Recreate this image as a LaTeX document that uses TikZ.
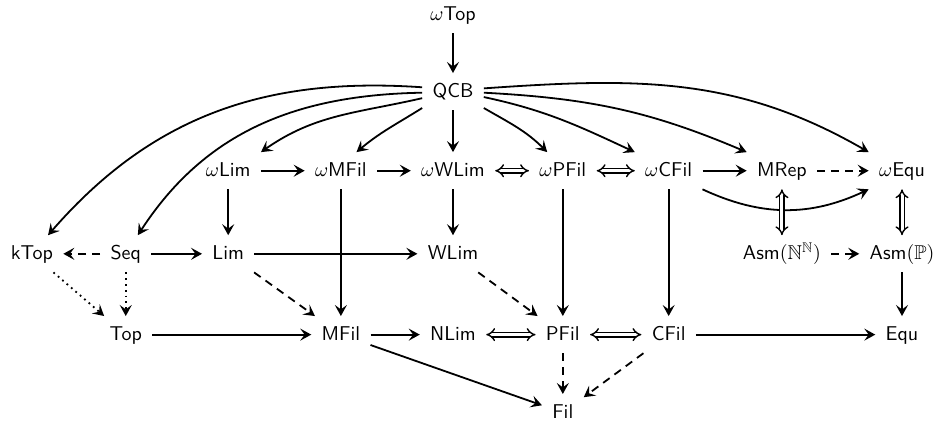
\documentclass[tikz,border=0pt]{standalone}
\usepackage{amssymb}
\usetikzlibrary{arrows.meta}
\begin{document}
\begin{tikzpicture}[
  every node/.style={font=\sffamily, inner sep=5pt, text height=1.6ex, text depth=0.3ex},
  ar/.style={line width=0.9pt, -{Stealth[length=5.5pt,width=6pt,inset=2.2pt]}},
  dar/.style={ar, dash pattern=on 4pt off 3pt},
  dotar/.style={ar, dotted},
  iff/.style={line width=0.7pt, double, double distance=1.5pt, {Implies}-{Implies}}]
\useasboundingbox (0,0.26) rectangle (16.43,-7.22);
% top
\node (wTop) at (7.96,0) {$\omega$Top};
\node (QCB) at (7.96,-1.35) {QCB};
\draw[ar](wTop) -- (QCB);
% omega row
\node (wLim) at (4.01,-2.74) {$\omega$Lim};
\node (wMFil) at (5.99,-2.74) {$\omega$MFil};
\node (wWLim) at (7.96,-2.74) {$\omega$WLim};
\node (wPFil) at (9.89,-2.74) {$\omega$PFil};
\node (wCFil) at (11.75,-2.74) {$\omega$CFil};
\node (MRep) at (13.74,-2.74) {MRep};
\node (wEqu) at (15.85,-2.74) {$\omega$Equ};
\draw[ar](wLim) -- (wMFil);
\draw[ar](wMFil) -- (wWLim);
\draw[iff](wWLim) -- (wPFil);
\draw[iff](wPFil) -- (wCFil);
\draw[ar](wCFil) -- (MRep);
\draw[dar](MRep) -- (wEqu);
% middle row
\node (kTop) at (0.56,-4.20) {kTop};
\node (Seq) at (2.21,-4.20) {Seq};
\node (Lim) at (4.01,-4.20) {Lim};
\node (WLim) at (7.96,-4.20) {WLim};
\node (AsmN) at (13.74,-4.20) {Asm$(\mathbb{N}^{\mathbb{N}})$};
\node (AsmP) at (15.85,-4.20) {Asm$(\mathbb{P})$};
\draw[dar](Seq) -- (kTop);
\draw[ar](Seq) -- (Lim);
\draw[ar](Lim) -- (WLim);
\draw[dar](AsmN) -- (AsmP);
% bottom row
\node (Top) at (2.21,-5.62) {Top};
\node (MFil) at (5.99,-5.62) {MFil};
\node (NLim) at (7.96,-5.62) {NLim};
\node (PFil) at (9.89,-5.62) {PFil};
\node (CFil) at (11.75,-5.62) {CFil};
\node (Equ) at (15.85,-5.62) {Equ};
\node (Fil) at (9.89,-6.99) {Fil};
\draw[ar](Top) -- (MFil);
\draw[ar](MFil) -- (NLim);
\draw[iff](NLim) -- (PFil);
\draw[iff](PFil) -- (CFil);
\draw[ar](CFil) -- (Equ);
\draw[ar](MFil) -- (Fil);
\draw[dar](PFil) -- (Fil);
\draw[dar](CFil) -- (Fil);
% verticals and diagonals
\draw[ar](wLim) -- (Lim);
\draw[ar](wMFil) -- (MFil);
\draw[ar](wWLim) -- (WLim);
\draw[ar](wPFil) -- (PFil);
\draw[ar](wCFil) -- (CFil);
\draw[ar](AsmP) -- (Equ);
\draw[dotar](kTop) -- (Top);
\draw[dotar](Seq) -- (Top);
\draw[dar](Lim) -- (MFil);
\draw[dar](WLim) -- (PFil);
% curves from QCB
\draw[ar](QCB.172) to[out=176, in=49] (kTop);
\draw[ar](QCB.182) to[out=181, in=57] (Seq);
\draw[ar](QCB.192) to[out=193, in=35] (wLim.north east);
\draw[ar](QCB.208) to[out=212, in=40] (wMFil.50);
\draw[ar](QCB) -- (wWLim);
\draw[ar](QCB.-28) to[out=-30, in=135] (wPFil.130);
\draw[ar](QCB.-10) to[out=-12, in=155] (wCFil.north west);
\draw[ar](QCB.-2) to[out=-3, in=157] (MRep.north west);
\draw[ar](QCB.6) to[out=4, in=150] (wEqu.north west);
\draw[ar](wCFil.south east) to[out=-25, in=205] (wEqu.south west);
% double verticals
\draw[iff](MRep) -- (AsmN);
\draw[iff](wEqu) -- (AsmP);
\end{tikzpicture}
\end{document}
